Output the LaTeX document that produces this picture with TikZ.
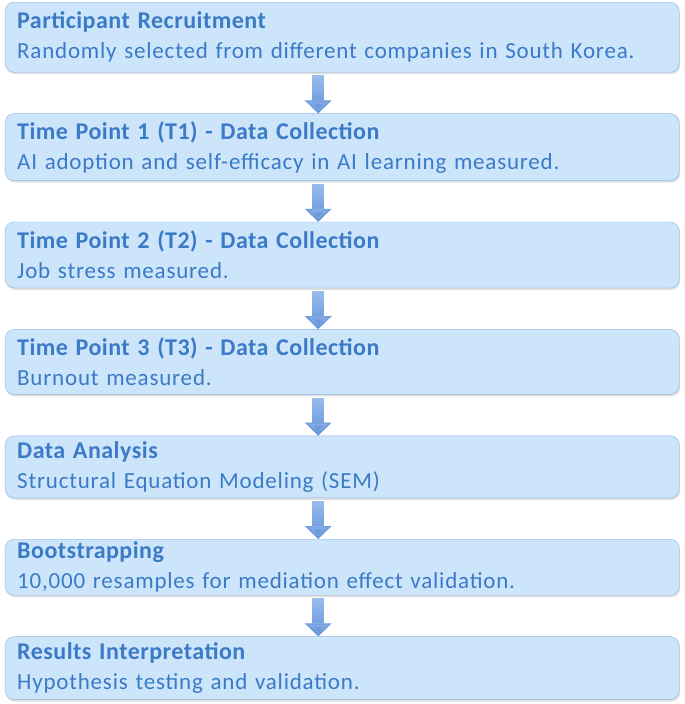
\documentclass[tikz,border=0pt]{standalone}
\usepackage{fontspec}
\setmainfont{Carlito}
\newfontfamily\bodyfont[LetterSpace=3.5]{Carlito}
\newfontfamily\titlefont[LetterSpace=2]{Carlito}
\usepackage{tikz}
\usetikzlibrary{graphs,shadows,arrows.meta,fadings}
\definecolor{boxfill}{HTML}{CDE5FB}
\definecolor{boxline}{HTML}{8DB4E2}
\definecolor{boxtext}{HTML}{3A7AC6}
\definecolor{arrowdark}{HTML}{5A8BD6}
\definecolor{arrowlight}{HTML}{A6C7F2}
\newcommand{\steptitle}[1]{{\titlefont\fontsize{24}{28}\selectfont\bfseries #1}}

\begin{document}
\begin{tikzpicture}[every node/.style={draw=boxline,fill=boxfill,rounded corners=9pt,text=boxtext,align=left,text width=650pt,inner xsep=12pt,inner ysep=0pt,font=\bodyfont\fontsize{23}{30}\selectfont,drop shadow={shadow xshift=1pt,shadow yshift=-2pt,opacity=0.25}},
	flowarrow/.style={draw=arrowdark,line width=12pt,-{Triangle[width=26pt,length=13pt]},shorten <=3pt,
		postaction={draw=arrowlight,path fading=south}}]
	\graph [grow down sep=41pt] {
	rec[minimum height=70pt,as={\steptitle{Participant Recruitment}\\Randomly selected from different companies in South Korea.}]
	-!- tp1[minimum height=67pt,as={\steptitle{Time Point 1 (T1) - Data Collection}\\AI adoption and self-efficacy in AI learning measured.}]
	-!- tp2[minimum height=66pt,as={\steptitle{Time Point 2 (T2) - Data Collection}\\Job stress measured.}]
	-!- tp3[minimum height=65pt,as={\steptitle{Time Point 3 (T3) - Data Collection}\\Burnout measured.}]
	-!- ana[minimum height=62pt,as={\steptitle{Data Analysis}\\Structural Equation Modeling (SEM)}]
	-!- boot[minimum height=56pt,as={\steptitle{Bootstrapping}\\10,000 resamples for mediation effect validation.}]
	-!- res[minimum height=63pt,as={\steptitle{Results Interpretation}\\Hypothesis testing and validation.}];
	};
	\draw[flowarrow] ([xshift=-24pt]rec.south) -- ([xshift=-24pt]tp1.north);
	\draw[flowarrow] ([xshift=-24pt]tp1.south) -- ([xshift=-24pt]tp2.north);
	\draw[flowarrow] ([xshift=-24pt]tp2.south) -- ([xshift=-24pt]tp3.north);
	\draw[flowarrow] ([xshift=-24pt]tp3.south) -- ([xshift=-24pt]ana.north);
	\draw[flowarrow] ([xshift=-24pt]ana.south) -- ([xshift=-24pt]boot.north);
	\draw[flowarrow] ([xshift=-24pt]boot.south) -- ([xshift=-24pt]res.north);
	\useasboundingbox ([shift={(-5pt,2pt)}]rec.north west) rectangle ++(685pt,-704pt);
\end{tikzpicture}
\end{document}
